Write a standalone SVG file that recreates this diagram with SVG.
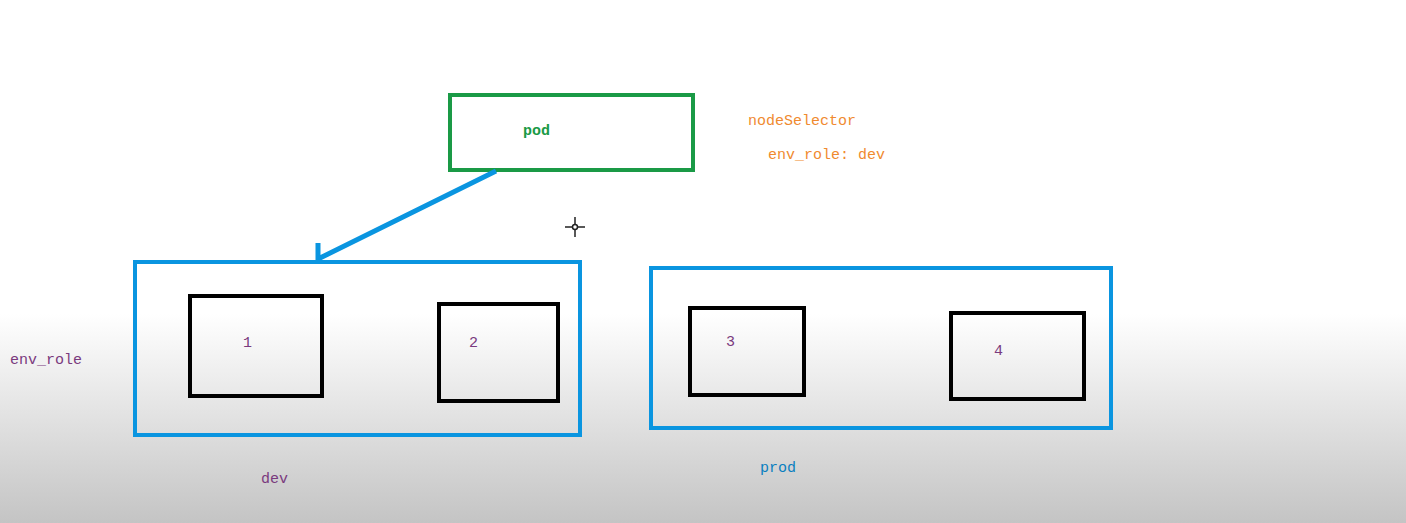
<svg xmlns="http://www.w3.org/2000/svg" width="1406" height="523" viewBox="0 0 1406 523">
<defs>
<linearGradient id="bg" x1="0" y1="0" x2="0" y2="1">
<stop offset="0" stop-color="#ffffff"/><stop offset="0.6" stop-color="#ffffff"/><stop offset="1" stop-color="#c4c4c4"/>
</linearGradient>
</defs>
<style>
.t{font-family:"Liberation Mono",monospace;font-size:15px}
.p{fill:#7a3a7e}
.o{fill:#f08a30}
.env{fill:none;stroke:#0a95e0;stroke-width:4}
.node{fill:none;stroke:#000;stroke-width:4}
</style>
<rect width="1406" height="523" fill="url(#bg)"/>
<g id="pod"><rect x="450" y="95" width="243" height="75" fill="none" stroke="#1a9a46" stroke-width="4"/><text class="t" x="523" y="135" fill="#1a9a46" font-weight="bold">pod</text></g>
<g id="selector"><text class="t o" x="748" y="125">nodeSelector</text><text class="t o" x="768" y="159">env_role: dev</text></g>
<g id="dev"><rect class="env" x="135" y="262" width="445" height="173"/><text class="t p" x="261" y="483">dev</text></g>
<g id="prod"><rect class="env" x="651" y="268" width="460" height="160"/><text class="t" x="760" y="472" fill="#0a7fc0">prod</text></g>
<g id="n1"><rect class="node" x="190" y="296" width="132" height="100"/><text class="t p" x="243" y="347">1</text></g>
<g id="n2"><rect class="node" x="439" y="304" width="119" height="97"/><text class="t p" x="469" y="347">2</text></g>
<g id="n3"><rect class="node" x="690" y="308" width="114" height="87"/><text class="t p" x="726" y="346">3</text></g>
<g id="n4"><rect class="node" x="951" y="313" width="133" height="86"/><text class="t p" x="994" y="355">4</text></g>
<text class="t p" x="10" y="364">env_role</text>
<g id="connectors"><path d="M496 171 L318 259 M318 243 L318 261" fill="none" stroke="#0a95e0" stroke-width="5"/></g>
<g stroke="#222" stroke-width="1.5" fill="none"><path d="M565 227 H585 M575 217 V237"/><circle cx="575" cy="227" r="2.5" fill="#fff"/></g>
</svg>
